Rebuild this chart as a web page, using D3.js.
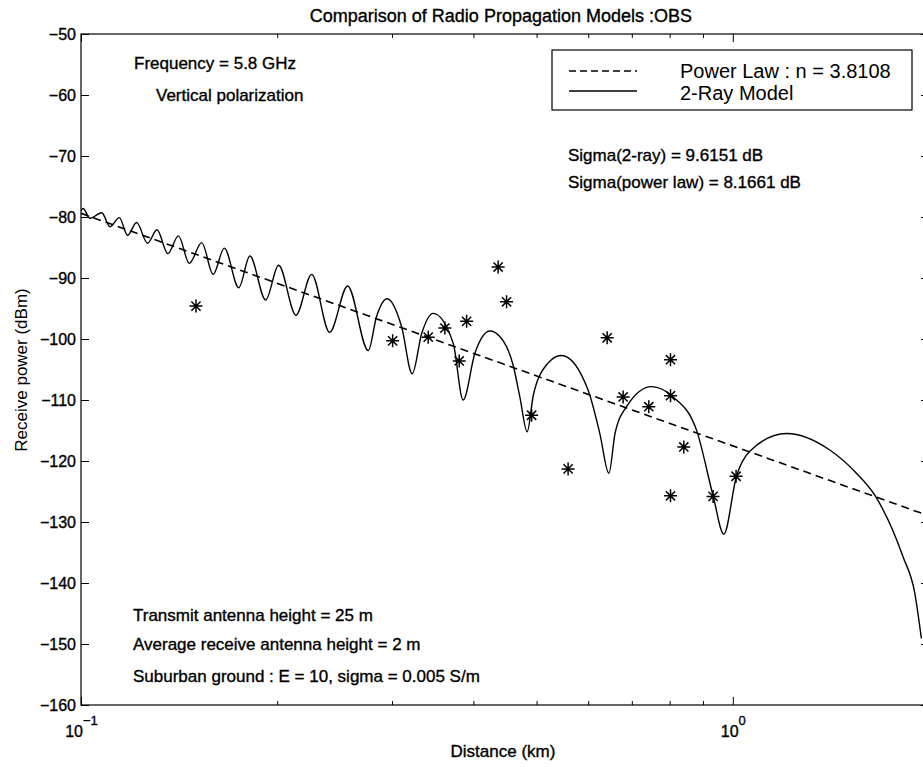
<!DOCTYPE html>
<html><head><meta charset="utf-8">
<script src="https://cdn.jsdelivr.net/npm/d3@7"></script>
<style>
body{margin:0;background:#fff}
svg{display:block}
text{font-family:"Liberation Sans",Arial,Helvetica,sans-serif;fill:#000}
.heavy{stroke:#000;stroke-width:0.35px}
</style>
</head><body>
<svg id="chart" width="923" height="767"></svg>
<script>
// ---------- data ----------
const chartTitle = "Comparison of Radio Propagation Models :OBS";
const xAxisLabel = "Distance (km)";
const yAxisLabel = "Receive power (dBm)";

const yTickValues = [-50, -60, -70, -80, -90, -100, -110, -120, -130, -140, -150, -160];
const xMajorTicks = [0.1, 1];
const xMajorExponents = ["\u22121", "0"];
const xMinorTicks = [0.2, 0.3, 0.4, 0.5, 0.6, 0.7, 0.8, 0.9, 2];

// Power law fit (dashed line) endpoints
const powerLawDist = [0.1, 2.0];
const powerLawPower = [-79.4, -129.0];

// 2-ray model curve (solid line)
const twoRayDist = [0.1000, 0.1007, 0.1032, 0.1076, 0.1108, 0.1145, 0.1179, 0.1217, 0.1265, 0.1308,
  0.1359, 0.1411, 0.1466, 0.1532, 0.1595, 0.1659, 0.1746, 0.1816, 0.1920, 0.2010,
  0.2137, 0.2259, 0.2407, 0.2565, 0.2759, 0.2841, 0.2949, 0.3104, 0.3222, 0.3332,
  0.3470, 0.3724, 0.3857, 0.4022, 0.4240, 0.4391, 0.4603, 0.4713, 0.4837, 0.4941,
  0.5089, 0.5461, 0.5999, 0.6252, 0.6455, 0.6596, 0.6870, 0.7505, 0.8100, 0.8795,
  0.9328, 0.9687, 1.0131, 1.0619, 1.2087, 1.4085, 1.5477, 1.6513, 1.8247, 1.9016, 1.9471];
const twoRayPower = [-79.0, -78.6, -80.2, -79.3, -81.6, -80.1, -83.0, -80.9, -84.3, -82.1,
  -86.0, -83.1, -87.6, -84.2, -89.4, -85.1, -91.6, -86.4, -93.6, -87.9,
  -96.1, -89.4, -98.9, -91.3, -101.9, -96.3, -93.4, -98.0, -105.7, -99.1,
  -95.8, -100.7, -110.0, -102.3, -98.7, -99.6, -104.3, -109.5, -115.2, -109.3,
  -105.4, -102.7, -108.4, -115.5, -122.0, -115.5, -111.1, -107.8, -109.5, -114.9,
  -125.7, -132.0, -122.5, -118.4, -115.5, -118.2, -122.0, -125.6, -135.7, -141.6, -149.1];

// Observations (asterisks)
const obsDist = [0.1501, 0.3007, 0.3410, 0.3616, 0.3804, 0.3905, 0.4365, 0.4497, 0.4913, 0.5589,
  0.6416, 0.6788, 0.7432, 0.8025, 0.8025, 0.8025, 0.8411, 0.9328, 1.0117];
const obsPower = [-94.6, -100.3, -99.7, -98.2, -103.6, -97.1, -88.2, -93.9, -112.5, -121.3,
  -99.8, -109.5, -111.1, -103.4, -109.3, -125.7, -117.7, -125.8, -122.5];

const legendLabels = ["Power Law : n = 3.8108", "2-Ray Model"];
const topLeftNotes = ["Frequency = 5.8 GHz", "Vertical polarization"];
const sigmaNotes = ["Sigma(2-ray) = 9.6151 dB", "Sigma(power law) = 8.1661 dB"];
const bottomNotes = ["Transmit antenna height = 25 m", "Average receive antenna height = 2 m",
  "Suburban ground : E = 10, sigma = 0.005 S/m"];

// ---------- layout ----------
const svg = d3.select("#chart");
const L = 81, R = 929, T = 34, B = 705;

const x = d3.scaleLog().domain([0.1, 2]).range([L, R]);
const y = d3.scaleLinear().domain([-160, -50]).range([B, T]);

svg.append("rect").attr("width", 923).attr("height", 767).attr("fill", "#fff");

svg.append("defs").append("clipPath").attr("id", "plotclip")
  .append("rect").attr("x", L).attr("y", T).attr("width", R - L).attr("height", B - T);

// axes
const yAxis = d3.axisLeft(y).tickValues(yTickValues).tickSizeInner(-8).tickSizeOuter(0).tickPadding(5)
  .tickFormat(d => d3.format("d")(d));
svg.append("g").attr("transform", `translate(${L},0)`).call(yAxis)
  .call(g => g.select(".domain").remove())
  .call(g => g.selectAll(".tick line").attr("stroke", "#000"))
  .call(g => g.selectAll(".tick text").attr("font-size", 16).attr("font-family", null)
    .attr("dy", "0.36em").attr("class", "heavy"));

svg.append("g").attr("transform", `translate(${R},0)`)
  .call(d3.axisRight(y).tickValues(yTickValues).tickSizeInner(-8).tickSizeOuter(0).tickFormat(""))
  .call(g => g.select(".domain").remove());

const xAxisMajor = d3.axisBottom(x).tickValues(xMajorTicks).tickSizeInner(-8).tickSizeOuter(0).tickFormat("");
svg.append("g").attr("class", "xmajor").attr("transform", `translate(0,${B})`).call(xAxisMajor)
  .call(g => g.select(".domain").remove());
svg.append("g").attr("transform", `translate(0,${B})`)
  .call(d3.axisBottom(x).tickValues(xMinorTicks).tickSizeInner(-4).tickSizeOuter(0).tickFormat(""))
  .call(g => g.select(".domain").remove());
svg.append("g").attr("transform", `translate(0,${T})`)
  .call(d3.axisTop(x).tickValues(xMajorTicks).tickSizeInner(-8).tickSizeOuter(0).tickFormat(""))
  .call(g => g.select(".domain").remove());
svg.append("g").attr("transform", `translate(0,${T})`)
  .call(d3.axisTop(x).tickValues(xMinorTicks).tickSizeInner(-4).tickSizeOuter(0).tickFormat(""))
  .call(g => g.select(".domain").remove());

// x tick labels 10^n
svg.select(".xmajor").selectAll(".tick").each(function(d, i) {
  const t = d3.select(this).append("text").attr("y", 32).attr("text-anchor", "middle")
    .attr("class", "heavy").attr("fill", "#000").attr("font-size", 16)
    .attr("font-family", "Liberation Sans, Arial, sans-serif");
  t.append("tspan").text("10");
  t.append("tspan").attr("dy", -12).attr("font-size", 13).text(xMajorExponents[i]);
});

// frame
svg.append("rect").attr("x", L).attr("y", T).attr("width", R - L).attr("height", B - T)
  .attr("fill", "none").attr("stroke", "#000").attr("stroke-width", 1.2);

// title & labels
svg.append("text").attr("x", 692).attr("y", 22).attr("text-anchor", "end").attr("class", "heavy")
  .attr("font-size", 18).text(chartTitle);
svg.append("text").attr("x", 503).attr("y", 757).attr("text-anchor", "middle").attr("class", "heavy")
  .attr("font-size", 17).text(xAxisLabel);
svg.append("text").attr("transform", "translate(27,370) rotate(-90)").attr("text-anchor", "middle")
  .attr("font-size", 17).text(yAxisLabel);

// plot contents
const plot = svg.append("g").attr("clip-path", "url(#plotclip)");

const powerLine = d3.line().x(d => x(d[0])).y(d => y(d[1]));
plot.append("path").datum(d3.zip(powerLawDist, powerLawPower))
  .attr("d", powerLine).attr("fill", "none").attr("stroke", "#000")
  .attr("stroke-width", 1.6).attr("stroke-dasharray", "8,5");

const rayLine = d3.line().x(d => x(d[0])).y(d => y(d[1])).curve(d3.curveMonotoneX);
plot.append("path").datum(d3.zip(twoRayDist, twoRayPower))
  .attr("d", rayLine).attr("fill", "none").attr("stroke", "#000")
  .attr("stroke-width", 1.4).attr("stroke-linejoin", "round");

const star = "M-6.5,0H6.5M0,-6.5V6.5M-4.6,-4.6L4.6,4.6M-4.6,4.6L4.6,-4.6";
plot.selectAll("path.obs").data(d3.zip(obsDist, obsPower)).join("path")
  .attr("class", "obs")
  .attr("transform", d => `translate(${x(d[0])},${y(d[1])})`)
  .attr("d", star).attr("fill", "none").attr("stroke", "#000").attr("stroke-width", 1.5);

// annotations
const noteSize = 17;
const note = (tx, ty, s) => svg.append("text").attr("x", tx).attr("y", ty)
  .attr("font-size", noteSize).attr("class", "heavy").text(s);
note(134, 69, topLeftNotes[0]);
note(156, 101, topLeftNotes[1]);
note(568, 161, sigmaNotes[0]);
note(568, 188, sigmaNotes[1]);
note(133, 621, bottomNotes[0]);
note(133, 650, bottomNotes[1]);
note(133, 682, bottomNotes[2]);

// legend
const lg = svg.append("g");
lg.append("rect").attr("x", 552).attr("y", 50).attr("width", 360).attr("height", 60)
  .attr("fill", "#fff").attr("stroke", "#000").attr("stroke-width", 1.2);
lg.append("line").attr("x1", 569).attr("x2", 637).attr("y1", 71).attr("y2", 71)
  .attr("stroke", "#000").attr("stroke-width", 1.3).attr("stroke-dasharray", "7,4");
lg.append("line").attr("x1", 569).attr("x2", 637).attr("y1", 91).attr("y2", 91)
  .attr("stroke", "#000").attr("stroke-width", 1.3);
lg.append("text").attr("x", 680).attr("y", 77.5).attr("font-size", 20).text(legendLabels[0]);
lg.append("text").attr("x", 680).attr("y", 100).attr("font-size", 20).text(legendLabels[1]);
</script>
</body></html>
